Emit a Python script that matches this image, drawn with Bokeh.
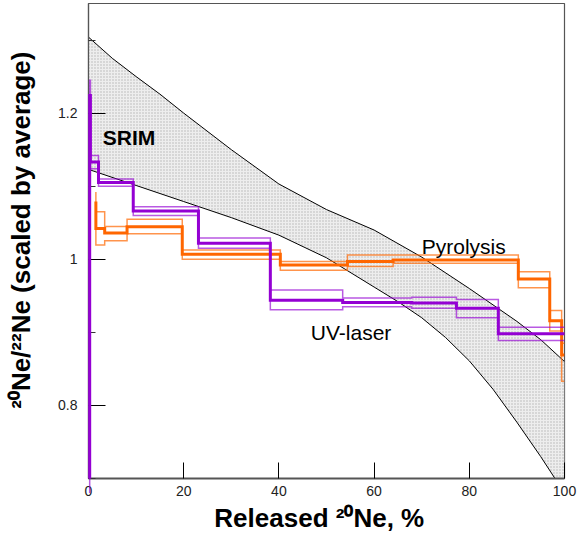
from bokeh.plotting import figure
from bokeh.models import Range1d, FixedTicker, Label, CustomJSTickFormatter
from bokeh.embed import file_html
from bokeh.resources import INLINE

# ---- data ----
# SRIM band (upper and lower boundary curves)
srim_x_upper = [0, 5, 10, 15, 20, 30, 40, 50, 60, 70, 80, 90, 95, 100]
srim_upper = [1.304, 1.275, 1.250, 1.226, 1.200, 1.150, 1.103, 1.068, 1.040, 1.003, 0.960, 0.915, 0.890, 0.860]
srim_x_lower = [0, 10, 20, 30, 40, 50, 60, 65, 70, 75, 80, 85, 90, 95, 100]
srim_lower = [1.123, 1.101, 1.079, 1.057, 1.033, 1.002, 0.962, 0.942, 0.920, 0.893, 0.861, 0.822, 0.777, 0.730, 0.680]

# UV-laser step series (edges in % released, values = ratio)
uv_edges = [0.25, 0.25, 0.4, 2.1, 9.4, 23.1, 38.2, 53.4, 67.9, 77.3, 86.1, 100]
uv_mid = [0.700, 1.224, 1.133, 1.105, 1.066, 1.022, 0.944, 0.941, 0.940, 0.933, 0.898]
uv_hi = [0.700, 1.245, 1.142, 1.110, 1.072, 1.029, 0.958, 0.947, 0.948, 0.945, 0.907]
uv_lo = [0.680, 1.200, 1.124, 1.100, 1.060, 1.015, 0.931, 0.935, 0.933, 0.920, 0.889]

# Pyrolysis step series
py_edges = [1.55, 1.55, 3.4, 8.1, 19.7, 40.3, 54.4, 64.0, 90.3, 96.9, 99.4, 100]
py_mid = [1.079, 1.042, 1.036, 1.0445, 1.007, 0.992, 0.997, 0.999, 0.973, 0.916, 0.869]
py_hi = [1.092, 1.065, 1.045, 1.0546, 1.0127, 0.997, 1.006, 1.006, 0.983, 0.930, 0.885]
py_lo = [1.070, 1.0195, 1.0254, 1.035, 1.000, 0.985, 0.990, 0.9945, 0.961, 0.902, 0.833]

x_ticks = [0, 20, 40, 60, 80, 100]
y_ticks = [0.8, 1.0, 1.2]
y_minor = [0.7, 0.9, 1.1, 1.3]

x_title = "Released \u00b2\u2070Ne, %"
y_title = "\u00b2\u2070Ne/\u00b2\u00b2Ne (scaled by average)"

FONT = "Liberation Sans"
PURPLE = "#9400d3"
ORANGE = "#ff6600"
NBSP = "\u00a0"


def step_xy(edges, vals):
    xs, ys = [], []
    for i, v in enumerate(vals):
        xs += [edges[i], edges[i + 1]]
        ys += [v, v]
    return xs, ys


p = figure(frame_width=476, frame_height=475,
           x_range=Range1d(0, 100), y_range=Range1d(0.7, 1.35),
           output_backend="svg", toolbar_location=None,
           min_border_left=88, min_border_right=21, min_border_top=3, min_border_bottom=0)
p.grid.visible = False
p.outline_line_color = "#555555"
p.outline_line_width = 1.2
p.background_fill_color = "white"
p.border_fill_color = "white"

# SRIM band
band_x = list(srim_x_upper) + list(reversed(srim_x_lower))
band_y = list(srim_upper) + list(reversed(srim_lower))
p.patch(band_x, band_y, fill_color="#eeeeee", line_color=None,
        hatch_pattern=".", hatch_color="#b4b4b4", hatch_scale=3, hatch_weight=0.7)
p.line(srim_x_upper, srim_upper, line_color="black", line_width=1)
p.line(srim_x_lower, srim_lower, line_color="black", line_width=1)

# Pyrolysis
for vals, w, a in [(py_hi, 1.5, 0.7), (py_lo, 1.5, 0.7), (py_mid, 3, 1.0)]:
    xs, ys = step_xy(py_edges, vals)
    p.line(xs, ys, line_color=ORANGE, line_width=w, line_alpha=a, line_join="miter")

# UV-laser (drawn above the axes like in the original)
for vals, w, a in [(uv_hi, 1.5, 0.65), (uv_lo, 1.5, 0.65), (uv_mid, 3, 1.0)]:
    xs, ys = step_xy(uv_edges, vals)
    p.line(xs, ys, line_color=PURPLE, line_width=w, line_alpha=a, line_join="miter",
           level="overlay")

# annotations
p.add_layout(Label(x=3.0, y=1.167, text="SRIM", text_font=FONT, text_font_style="bold",
                   text_font_size="21px", text_color="black", text_baseline="alphabetic"))
p.add_layout(Label(x=70.0, y=1.017, text="Pyrolysis", text_font=FONT,
                   text_font_size="21px", text_color="black", text_baseline="alphabetic"))
p.add_layout(Label(x=46.7, y=0.900, text="UV-laser", text_font=FONT,
                   text_font_size="21px", text_color="black", text_baseline="alphabetic"))

# axes
xa = p.xaxis[0]
xa.ticker = FixedTicker(ticks=x_ticks)
xa.major_tick_in = 16
xa.major_tick_out = 0
xa.minor_tick_line_color = None
xa.axis_line_color = "#555555"
xa.axis_line_width = 2
xa.major_tick_line_color = "black"
xa.major_label_text_font = FONT
xa.major_label_text_font_size = "14px"
xa.major_label_text_color = "#222222"
xa.major_label_standoff = 7
xa.axis_label = x_title + NBSP * 2
xa.axis_label_text_font = FONT
xa.axis_label_text_font_style = "bold"
xa.axis_label_text_font_size = "26px"
xa.axis_label_text_color = "black"
xa.axis_label_standoff = 4

ya = p.yaxis[0]
ya.ticker = FixedTicker(ticks=y_ticks, minor_ticks=y_minor)
ya.formatter = CustomJSTickFormatter(code="return String(Math.round(tick*10)/10);")
ya.major_tick_in = 17
ya.major_tick_out = 0
ya.minor_tick_in = 7
ya.minor_tick_out = 0
ya.axis_line_color = "#555555"
ya.axis_line_width = 1.2
ya.major_tick_line_color = "black"
ya.minor_tick_line_color = "#333333"
ya.major_label_text_font = FONT
ya.major_label_text_font_size = "14px"
ya.major_label_text_color = "#222222"
ya.major_label_standoff = 11
ya.axis_label = NBSP * 3 + y_title
ya.axis_label_text_font = FONT
ya.axis_label_text_font_style = "bold"
ya.axis_label_text_font_size = "26px"
ya.axis_label_text_color = "black"
ya.axis_label_standoff = 19

open("out.html", "w").write(file_html(p, INLINE))
